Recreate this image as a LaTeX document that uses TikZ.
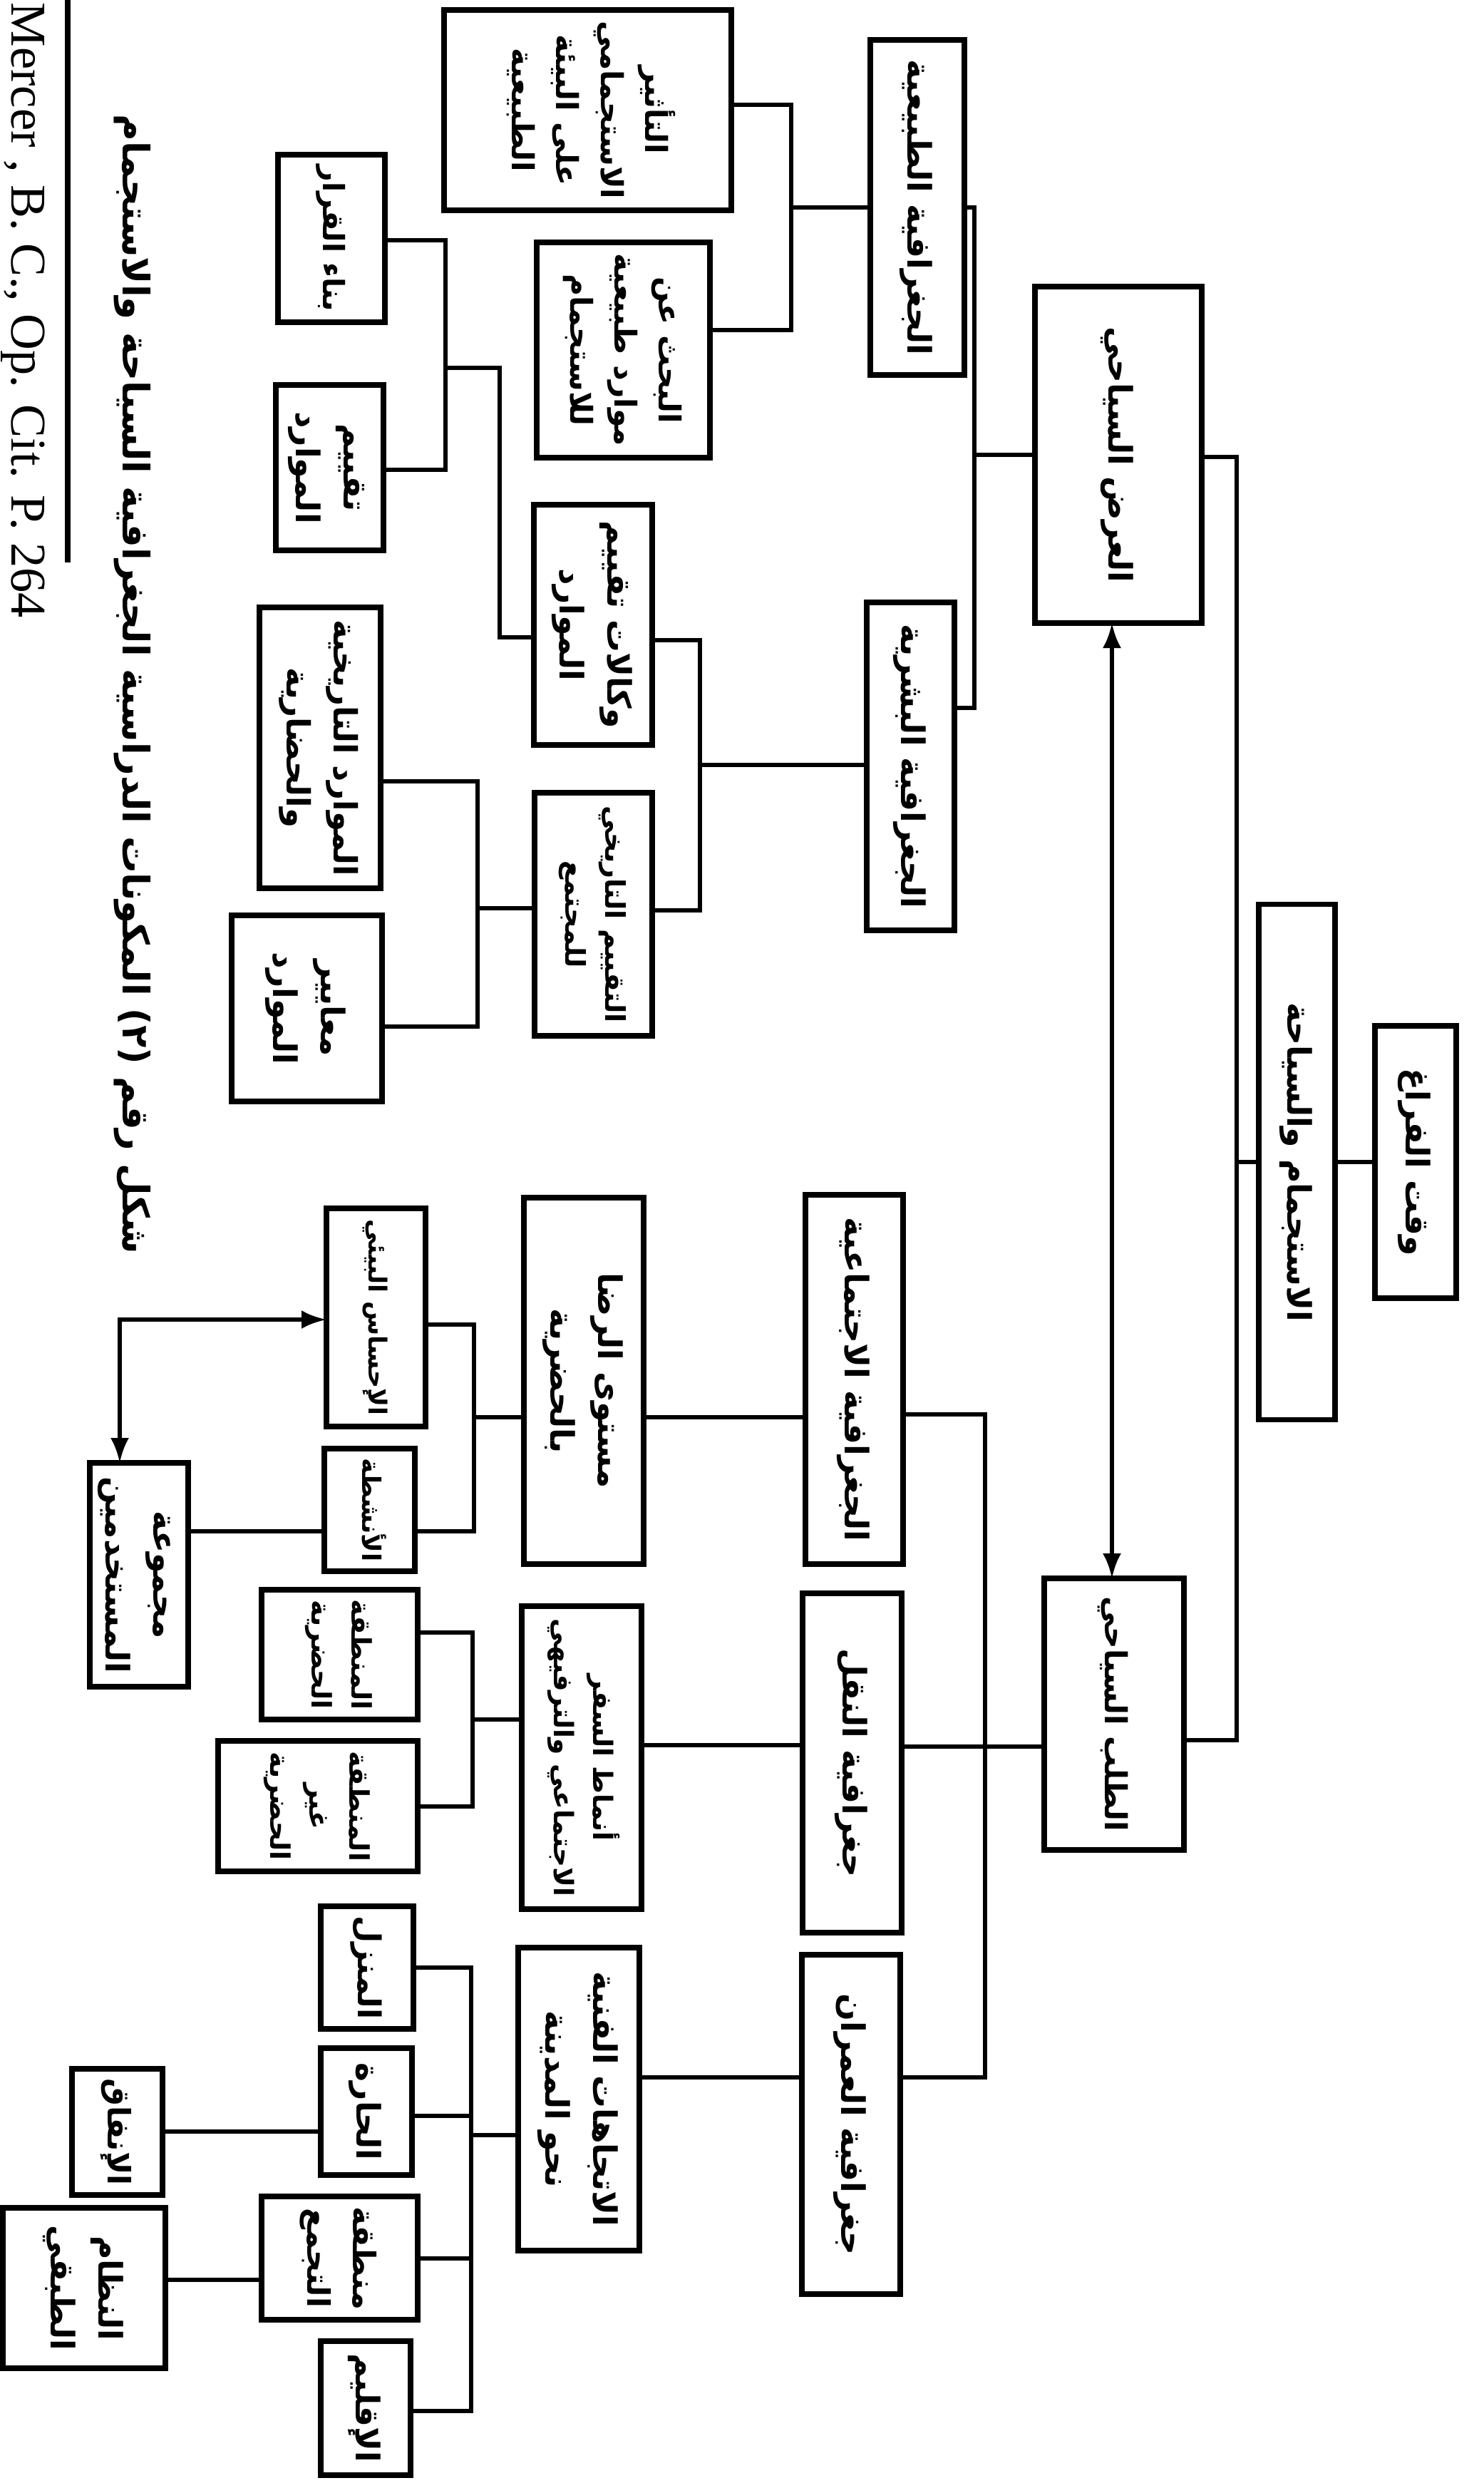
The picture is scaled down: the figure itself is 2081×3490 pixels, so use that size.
\documentclass[tikz,border=0pt]{standalone}
\usepackage{fontspec}
\usepackage{graphicx}
\setmainfont{Liberation Serif}
\newfontfamily\arabicfont[Script=Arabic]{DejaVu Sans}
\TeXXeTstate=1
\newcommand{\ar}[1]{\beginR #1\endR}
\newsavebox\tbox
\newcommand{\rfit}[2]{%
  \sbox\tbox{\begin{tabular}{@{}c@{}}#2\end{tabular}}%
  \ifdim\wd\tbox>#1\relax
    \rotatebox{-90}{\resizebox{#1}{!}{\usebox\tbox}}%
  \else
    \rotatebox{-90}{\usebox\tbox}%
  \fi}
\usetikzlibrary{arrows.meta}
\begin{document}
\begin{tikzpicture}[x=0.1mm,y=0.1mm,
  box/.style={draw, line width=2.2pt, inner sep=0pt, outer sep=0pt,
    font=\arabicfont\bfseries\fontsize{13}{19}\selectfont},
  conn/.style={line width=1.7pt},
  dbl/.style={conn, {Latex[length=3.5mm,width=2.6mm]}-{Latex[length=3.5mm,width=2.6mm]}},
]
\useasboundingbox (0,0) rectangle (2081,-3490);

% ---------- right column ----------
\node[box, minimum width=11.4mm, minimum height=38.2mm] (root) at (1986,-1630) {\rfit{32mm}{\ar{وقت الفراغ}}};
\node[box, minimum width=10.7mm, minimum height=72.3mm] (rec) at (1819.5,-1630) {\rfit{60mm}{\ar{الاستجمام والسياحة}}};
\node[box, minimum width=23.4mm, minimum height=47.2mm] (sup) at (1569,-638) {\rfit{40mm}{\ar{العرض السياحي}}};
\node[box, minimum width=19.6mm, minimum height=38.1mm] (dem) at (1563,-2404.5) {\rfit{33mm}{\ar{الطلب السياحي}}};

% ---------- level 2 ----------
\node[box, minimum width=13.2mm, minimum height=47mm] (phy) at (1287,-291) {\rfit{42mm}{\ar{الجغرافية الطبيعية}}};
\node[box, minimum width=12.3mm, minimum height=46mm] (hum) at (1277.5,-1075) {\rfit{41mm}{\ar{الجغرافية البشرية}}};
\node[box, minimum width=13.7mm, minimum height=51.8mm] (soc) at (1198.5,-1935) {\rfit{47mm}{\ar{الجغرافية الاجتماعية}}};
\node[box, minimum width=13.9mm, minimum height=47.6mm] (tra) at (1195.5,-2473) {\rfit{43mm}{\ar{جغرافية النقل}}};
\node[box, minimum width=13.8mm, minimum height=47.6mm] (urb) at (1194,-2980) {\rfit{43mm}{\ar{جغرافية العمران}}};

% ---------- level 3 ----------
\node[box, minimum width=40.3mm, minimum height=28.1mm] (S1) at (824.5,-154.5) {\rfit{25mm}{\ar{التأثير}\\\ar{الاستجمامي}\\\ar{على البيئة}\\\ar{الطبيعية}}};
\node[box, minimum width=24.3mm, minimum height=30.2mm] (S2) at (874.5,-491) {\rfit{27mm}{\ar{البحث عن}\\\ar{موارد طبيعية}\\\ar{للاستجمام}}};
\node[box, minimum width=16.6mm, minimum height=33.7mm] (S3) at (832,-876.5) {\rfit{30mm}{\ar{وكالات تقييم}\\\ar{الموارد}}};
\node[box, minimum width=16.5mm, minimum height=34.1mm] (S4) at (832.5,-1282.5) {\rfit{30.5mm}{\ar{التقييم التاريخي}\\\ar{للمجتمع}}};
\node[box, minimum width=16.8mm, minimum height=51.4mm] (D1) at (819,-1937) {\rfit{42mm}{\ar{مستوى الرضا}\\\ar{بالحضرية}}};
\node[box, minimum width=16.8mm, minimum height=42.5mm] (D2) at (816,-2465.5) {\rfit{39mm}{\ar{أنماط السفر}\\\ar{الاجتماعي والترفيهي}}};
\node[box, minimum width=17mm, minimum height=42.5mm] (D3) at (812,-2944.5) {\rfit{39mm}{\ar{الاتجاهات الفنية}\\\ar{نحو المدينة}}};

% ---------- level 4 ----------
\node[box, minimum width=15mm, minimum height=23.5mm] (L1) at (465,-334.5) {\rfit{20.5mm}{\ar{بناء القرار}}};
\node[box, minimum width=15.1mm, minimum height=23.2mm] (L2) at (462.5,-656) {\rfit{20mm}{\ar{تقييم}\\\ar{الموارد}}};
\node[box, minimum width=17mm, minimum height=39.4mm] (L3) at (449,-1049) {\rfit{36mm}{\ar{الموارد التاريخية}\\\ar{والحضارية}}};
\node[box, minimum width=21.1mm, minimum height=26.1mm] (L4) at (430.5,-1414.5) {\rfit{23mm}{\ar{معايير}\\\ar{الموارد}}};
\node[box, minimum width=13.9mm, minimum height=30.6mm] (E1) at (527.5,-1848) {\rfit{27.5mm}{\ar{الإحساس البيئي}}};
\node[box, minimum width=12.7mm, minimum height=17.2mm] (E2) at (518.5,-2118) {\rfit{14.5mm}{\ar{الأنشطة}}};
\node[box, minimum width=13.8mm, minimum height=31.4mm] (F1) at (195,-2209) {\rfit{28mm}{\ar{مجموعة}\\\ar{المستخدمين}}};
\node[box, minimum width=21.9mm, minimum height=18.2mm] (G1) at (476.5,-2321) {\rfit{15.5mm}{\ar{المنطقة}\\\ar{الحضرية}}};
\node[box, minimum width=28mm, minimum height=18.3mm] (G2) at (446,-2533.5) {\rfit{15.5mm}{\ar{المنطقة}\\\ar{غير}\\\ar{الحضرية}}};
\node[box, minimum width=13mm, minimum height=17.2mm] (H1) at (515,-2760) {\rfit{14.5mm}{\ar{المنزل}}};
\node[box, minimum width=12.8mm, minimum height=17.8mm] (H2) at (514,-2962) {\rfit{15mm}{\ar{الحارة}}};
\node[box, minimum width=21.9mm, minimum height=17.3mm] (H3) at (476.5,-3167.5) {\rfit{14.5mm}{\ar{منطقة}\\\ar{التجمع}}};
\node[box, minimum width=12.6mm, minimum height=18.8mm] (H4) at (513,-3378) {\rfit{16mm}{\ar{الإقليم}}};
\node[box, minimum width=12.7mm, minimum height=17.7mm] (I1) at (164.5,-2990.5) {\rfit{15mm}{\ar{الإنفاق}}};
\node[box, minimum width=22.8mm, minimum height=22.5mm] (I2) at (118,-3209.5) {\rfit{19.5mm}{\ar{النظام}\\\ar{الطبقي}}};

% ---------- caption and source ----------
\node[inner sep=0pt, font=\arabicfont\bfseries\fontsize{16}{20}\selectfont] (cap) at (186,-960)
  {\rotatebox{-90}{\resizebox{159.8mm}{!}{\ar{شكل رقم (٢) المكونات الدراسية الجغرافية السياحة والاستجمام}}}};
\node[inner sep=0pt, anchor=north, font=\fontsize{20}{22}\selectfont] (src) at (32,-3)
  {\rotatebox{-90}{Mercer , B. C., Op. Cit. P. 264}};
\draw[line width=2.4pt] (95,0) -- (95,-789);

% ---------- connectors ----------
\coordinate (mT) at (1735,-641);
\coordinate (mB) at (1735,-2441);
\draw[conn] (sup.east |- mT) -- (mT) -- (mB) -- (dem.east |- mB);
\draw[conn] (root.west) -- (rec.east);
\draw[conn] (rec.west) -- (rec.west -| mT);
\coordinate (dA) at (1560,0);
\draw[dbl] (sup.south -| dA) -- (dem.north -| dA);

\coordinate (pT) at (1367,-291);
\coordinate (pB) at (1367,-993);
\draw[conn] (phy.east) -- (pT) -- (pB) -- (hum.east |- pB);
\draw[conn] (sup.west) -- (sup.west -| pT);

\coordinate (aT) at (1110,-147);
\coordinate (aB) at (1110,-463);
\draw[conn] (S1.east |- aT) -- (aT) -- (aB) -- (S2.east |- aB);
\draw[conn] (phy.west) -- (phy.west -| aT);

\coordinate (bT) at (982,-898);
\coordinate (bB) at (982,-1277);
\coordinate (bM) at (982,-1073);
\draw[conn] (S3.east |- bT) -- (bT) -- (bB) -- (S4.east |- bB);
\draw[conn] (hum.west |- bM) -- (bM);

\coordinate (c1) at (701,-894);
\coordinate (c2) at (701,-516);
\coordinate (cT) at (625,-337);
\coordinate (cB) at (625,-659);
\draw[conn] (S3.west |- c1) -- (c1) -- (c2) -- (c2 -| cT);
\draw[conn] (L1.east |- cT) -- (cT) -- (cB) -- (L2.east |- cB);

\coordinate (dT) at (670,-1096);
\coordinate (dB) at (670,-1440);
\coordinate (dM) at (670,-1274);
\draw[conn] (L3.east |- dT) -- (dT) -- (dB) -- (L4.east |- dB);
\draw[conn] (S4.west |- dM) -- (dM);

\coordinate (eT) at (1382,-1984);
\coordinate (eB) at (1382,-2914);
\coordinate (eM) at (1382,-2450);
\draw[conn] (soc.east |- eT) -- (eT) -- (eB) -- (urb.east |- eB);
\draw[conn] (tra.east |- eM) -- (dem.west |- eM);

\coordinate (f1) at (665,-1988);
\coordinate (f2) at (0,-2448);
\coordinate (f3) at (0,-2914);
\draw[conn] (D1.east |- f1) -- (soc.west |- f1);
\draw[conn] (D1.west |- f1) -- (f1);
\draw[conn] (D2.east |- f2) -- (tra.west |- f2);
\draw[conn] (D3.east |- f3) -- (urb.west |- f3);

\coordinate (gT) at (665,-1858);
\coordinate (gB) at (665,-2148);
\draw[conn] (E1.east |- gT) -- (gT) -- (gB) -- (E2.east |- gB);
\draw[conn] (F1.east |- gB) -- (E2.west |- gB);
\coordinate (hC) at (168,-1851);
\draw[dbl] (F1.north -| hC) -- (hC) -- (E1.west |- hC);

\coordinate (iT) at (663,-2290);
\coordinate (iB) at (663,-2534);
\coordinate (iM) at (663,-2412);
\draw[conn] (G1.east |- iT) -- (iT) -- (iB) -- (G2.east |- iB);
\draw[conn] (D2.west |- iM) -- (iM);

\coordinate (jT) at (661,-2760);
\coordinate (jB) at (661,-3382);
\coordinate (j2) at (661,-2968);
\coordinate (j3) at (661,-3168);
\coordinate (jM) at (661,-2995);
\draw[conn] (H1.east |- jT) -- (jT) -- (jB) -- (H4.east |- jB);
\draw[conn] (H2.east |- j2) -- (j2);
\draw[conn] (H3.east |- j3) -- (j3);
\draw[conn] (D3.west |- jM) -- (jM);

\coordinate (k1) at (0,-2990);
\coordinate (k2) at (0,-3198);
\draw[conn] (I1.east |- k1) -- (H2.west |- k1);
\draw[conn] (I2.east |- k2) -- (H3.west |- k2);
\end{tikzpicture}
\end{document}
